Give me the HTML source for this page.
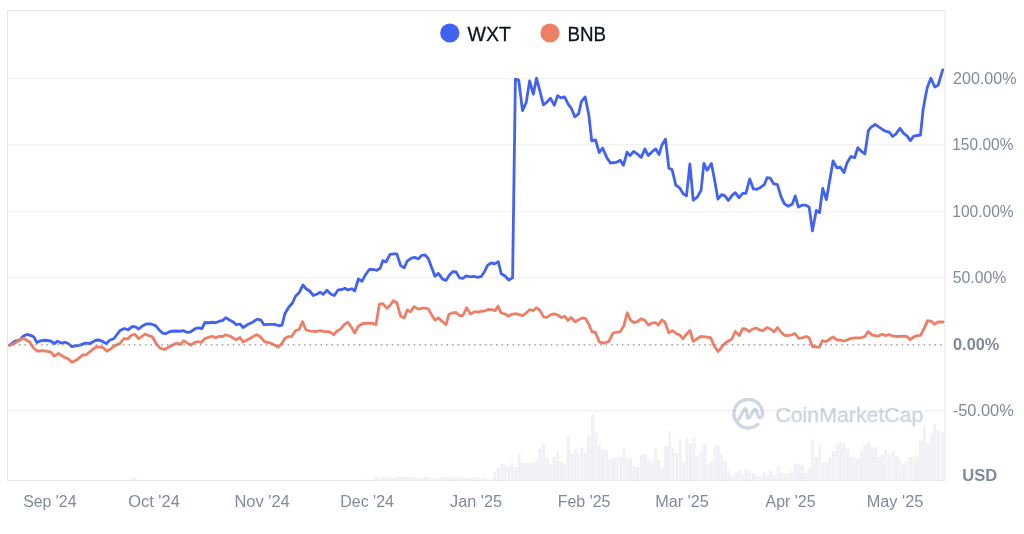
<!DOCTYPE html>
<html><head><meta charset="utf-8"><style>
html,body{margin:0;padding:0;background:#fff;}
body{width:1024px;height:534px;overflow:hidden;}
svg{display:block;font-family:"Liberation Sans",sans-serif;will-change:transform;}
</style></head><body>
<svg width="1024" height="534" viewBox="0 0 1024 534">
<rect width="1024" height="534" fill="#fff"/>
<g fill="#cfd5e2" stroke="#cfd5e2">
<path d="M762.50,413.70 A14.3,14.3 0 1 0 757.95,424.16" fill="none" stroke-width="3.3" stroke-linecap="round"/>
<path d="M737.3,421.9 L744.2,409.6 Q745.6,407.2 746.5,409.9 L747.2,416.6 Q747.9,420.2 749.6,417.2 L753.6,410.3 Q755.1,407.8 756.2,410.6 L758.2,416.2 Q759.4,419.2 761.3,417.2 Q762.5,415.6 762.5,413.7" fill="none" stroke-width="3.1" stroke-linejoin="round" stroke-linecap="round"/>
<text x="775.4" y="422.2" font-size="20.5" stroke-width="0.45" textLength="148" lengthAdjust="spacingAndGlyphs">CoinMarketCap</text>
</g>
<g fill="rgba(0,0,0,0.058)">
<rect x="8" y="78.1" width="937" height="1.2"/><rect x="8" y="144.1" width="937" height="1.2"/><rect x="8" y="211.1" width="937" height="1.2"/><rect x="8" y="277.1" width="937" height="1.2"/><rect x="8" y="410.1" width="937" height="1.2"/>
</g>
<rect x="7.5" y="10.5" width="937.5" height="470" fill="none" stroke="#e6e6e6" stroke-width="1"/>
<g fill="#eff1f5"><rect x="130.30" y="478.20" width="3.00" height="2.30"/><rect x="133.80" y="478.00" width="3.00" height="2.50"/><rect x="361.00" y="479.30" width="3.00" height="1.20"/><rect x="375.00" y="477.00" width="3.17" height="3.50"/><rect x="378.49" y="477.50" width="3.17" height="3.00"/><rect x="381.98" y="476.50" width="3.17" height="4.00"/><rect x="385.47" y="477.50" width="3.17" height="3.00"/><rect x="388.96" y="478.00" width="3.17" height="2.50"/><rect x="392.45" y="478.00" width="3.17" height="2.50"/><rect x="395.94" y="477.00" width="3.17" height="3.50"/><rect x="399.43" y="476.50" width="3.17" height="4.00"/><rect x="402.92" y="476.50" width="3.17" height="4.00"/><rect x="406.41" y="476.50" width="3.17" height="4.00"/><rect x="409.90" y="477.00" width="3.17" height="3.50"/><rect x="413.39" y="477.50" width="3.17" height="3.00"/><rect x="416.88" y="478.00" width="3.17" height="2.50"/><rect x="420.37" y="477.50" width="3.17" height="3.00"/><rect x="423.86" y="477.00" width="3.17" height="3.50"/><rect x="427.35" y="477.50" width="3.17" height="3.00"/><rect x="430.84" y="478.00" width="3.17" height="2.50"/><rect x="434.33" y="478.50" width="3.17" height="2.00"/><rect x="437.82" y="477.50" width="3.17" height="3.00"/><rect x="441.31" y="477.00" width="3.17" height="3.50"/><rect x="444.80" y="478.00" width="3.17" height="2.50"/><rect x="448.29" y="476.50" width="3.17" height="4.00"/><rect x="451.78" y="478.00" width="3.17" height="2.50"/><rect x="455.27" y="476.50" width="3.17" height="4.00"/><rect x="458.76" y="477.00" width="3.17" height="3.50"/><rect x="462.25" y="477.50" width="3.17" height="3.00"/><rect x="465.74" y="478.00" width="3.17" height="2.50"/><rect x="469.23" y="478.00" width="3.17" height="2.50"/><rect x="472.72" y="477.50" width="3.17" height="3.00"/><rect x="476.21" y="477.50" width="3.47" height="3.00"/><rect x="480.00" y="478.70" width="2.78" height="1.80"/><rect x="483.10" y="477.40" width="2.88" height="3.10"/><rect x="486.30" y="479.00" width="2.78" height="1.50"/><rect x="489.40" y="479.50" width="3.68" height="1.00"/><rect x="493.40" y="472.10" width="2.78" height="8.40"/><rect x="496.50" y="468.00" width="3.68" height="12.50"/><rect x="500.50" y="463.70" width="2.78" height="16.80"/><rect x="503.60" y="464.80" width="2.78" height="15.70"/><rect x="506.70" y="466.40" width="3.68" height="14.10"/><rect x="510.70" y="462.60" width="2.78" height="17.90"/><rect x="513.80" y="466.90" width="3.68" height="13.60"/><rect x="517.80" y="453.20" width="2.78" height="27.30"/><rect x="520.90" y="462.60" width="2.88" height="17.90"/><rect x="524.10" y="462.90" width="2.78" height="17.60"/><rect x="527.20" y="462.60" width="3.58" height="17.90"/><rect x="531.10" y="462.60" width="3.68" height="17.90"/><rect x="535.10" y="459.80" width="2.78" height="20.70"/><rect x="538.20" y="448.80" width="3.58" height="31.70"/><rect x="542.10" y="443.30" width="2.88" height="37.20"/><rect x="545.30" y="457.40" width="3.58" height="23.10"/><rect x="549.20" y="463.70" width="2.88" height="16.80"/><rect x="552.40" y="457.40" width="3.58" height="23.10"/><rect x="556.30" y="450.30" width="2.88" height="30.20"/><rect x="559.50" y="461.40" width="3.58" height="19.10"/><rect x="563.40" y="463.70" width="2.78" height="16.80"/><rect x="566.50" y="436.50" width="3.68" height="44.00"/><rect x="570.50" y="453.20" width="2.78" height="27.30"/><rect x="573.60" y="449.10" width="3.58" height="31.40"/><rect x="577.50" y="454.30" width="2.88" height="26.20"/><rect x="580.70" y="447.50" width="2.78" height="33.00"/><rect x="583.80" y="453.20" width="2.88" height="27.30"/><rect x="587.00" y="435.40" width="3.58" height="45.10"/><rect x="590.90" y="414.50" width="3.68" height="66.00"/><rect x="594.90" y="432.70" width="2.78" height="47.80"/><rect x="598.00" y="444.80" width="2.78" height="35.70"/><rect x="601.10" y="448.80" width="3.68" height="31.70"/><rect x="605.10" y="450.00" width="2.78" height="30.50"/><rect x="608.20" y="459.80" width="2.88" height="20.70"/><rect x="611.40" y="458.50" width="3.58" height="22.00"/><rect x="615.30" y="457.00" width="2.88" height="23.50"/><rect x="618.50" y="457.00" width="3.58" height="23.50"/><rect x="622.40" y="449.10" width="2.78" height="31.40"/><rect x="625.50" y="457.00" width="2.88" height="23.50"/><rect x="628.70" y="458.50" width="3.58" height="22.00"/><rect x="632.60" y="466.40" width="2.88" height="14.10"/><rect x="635.80" y="466.90" width="3.78" height="13.60"/><rect x="639.90" y="454.30" width="2.88" height="26.20"/><rect x="643.10" y="454.30" width="3.58" height="26.20"/><rect x="647.00" y="459.80" width="2.88" height="20.70"/><rect x="650.20" y="461.40" width="3.58" height="19.10"/><rect x="654.10" y="448.80" width="2.78" height="31.70"/><rect x="657.20" y="459.80" width="2.88" height="20.70"/><rect x="660.40" y="468.00" width="3.58" height="12.50"/><rect x="664.30" y="445.90" width="3.68" height="34.60"/><rect x="668.30" y="431.20" width="2.78" height="49.30"/><rect x="671.40" y="447.20" width="2.78" height="33.30"/><rect x="674.50" y="453.20" width="3.68" height="27.30"/><rect x="678.50" y="439.30" width="2.78" height="41.20"/><rect x="681.60" y="462.60" width="3.68" height="17.90"/><rect x="685.60" y="437.80" width="2.78" height="42.70"/><rect x="688.70" y="443.30" width="3.58" height="37.20"/><rect x="692.60" y="437.80" width="2.88" height="42.70"/><rect x="695.80" y="455.90" width="3.58" height="24.60"/><rect x="699.70" y="450.30" width="2.88" height="30.20"/><rect x="702.90" y="443.30" width="3.58" height="37.20"/><rect x="706.80" y="463.70" width="2.88" height="16.80"/><rect x="710.00" y="461.40" width="3.58" height="19.10"/><rect x="713.90" y="444.80" width="2.78" height="35.70"/><rect x="717.00" y="445.90" width="2.88" height="34.60"/><rect x="720.20" y="454.30" width="2.78" height="26.20"/><rect x="723.30" y="461.40" width="3.68" height="19.10"/><rect x="727.30" y="470.80" width="2.78" height="9.70"/><rect x="730.40" y="476.30" width="3.58" height="4.20"/><rect x="734.30" y="472.40" width="2.88" height="8.10"/><rect x="737.50" y="470.80" width="3.58" height="9.70"/><rect x="741.40" y="473.60" width="2.88" height="6.90"/><rect x="744.60" y="469.20" width="3.58" height="11.30"/><rect x="748.50" y="472.70" width="2.78" height="7.80"/><rect x="751.60" y="473.60" width="3.68" height="6.90"/><rect x="755.60" y="476.30" width="2.78" height="4.20"/><rect x="758.70" y="476.30" width="3.68" height="4.20"/><rect x="762.70" y="472.10" width="2.78" height="8.40"/><rect x="765.80" y="475.20" width="2.78" height="5.30"/><rect x="768.90" y="470.80" width="3.68" height="9.70"/><rect x="772.90" y="475.20" width="3.58" height="5.30"/><rect x="776.80" y="466.40" width="2.88" height="14.10"/><rect x="780.00" y="472.70" width="2.78" height="7.80"/><rect x="783.10" y="473.60" width="3.58" height="6.90"/><rect x="787.00" y="473.60" width="2.88" height="6.90"/><rect x="790.20" y="470.50" width="3.38" height="10.00"/><rect x="793.90" y="463.70" width="2.88" height="16.80"/><rect x="797.10" y="463.70" width="2.78" height="16.80"/><rect x="800.20" y="465.30" width="3.68" height="15.20"/><rect x="804.20" y="473.20" width="2.78" height="7.30"/><rect x="807.30" y="468.00" width="3.58" height="12.50"/><rect x="811.20" y="439.30" width="2.88" height="41.20"/><rect x="814.40" y="457.00" width="3.58" height="23.50"/><rect x="818.30" y="444.80" width="2.88" height="35.70"/><rect x="821.50" y="462.60" width="3.58" height="17.90"/><rect x="825.40" y="462.60" width="2.78" height="17.90"/><rect x="828.50" y="457.00" width="2.88" height="23.50"/><rect x="831.70" y="451.10" width="3.58" height="29.40"/><rect x="835.60" y="444.40" width="2.88" height="36.10"/><rect x="838.80" y="442.20" width="3.58" height="38.30"/><rect x="842.70" y="443.70" width="2.88" height="36.80"/><rect x="845.90" y="449.10" width="3.58" height="31.40"/><rect x="849.80" y="457.00" width="2.78" height="23.50"/><rect x="852.90" y="457.00" width="2.88" height="23.50"/><rect x="856.10" y="458.50" width="3.58" height="22.00"/><rect x="860.00" y="451.10" width="2.88" height="29.40"/><rect x="863.20" y="444.80" width="3.58" height="35.70"/><rect x="867.10" y="442.20" width="2.78" height="38.30"/><rect x="870.20" y="447.20" width="2.88" height="33.30"/><rect x="873.40" y="447.20" width="3.58" height="33.30"/><rect x="877.30" y="457.00" width="3.68" height="23.50"/><rect x="881.30" y="454.30" width="2.78" height="26.20"/><rect x="884.40" y="449.10" width="2.78" height="31.40"/><rect x="887.50" y="454.30" width="3.68" height="26.20"/><rect x="891.50" y="451.60" width="2.78" height="28.90"/><rect x="894.60" y="455.90" width="3.68" height="24.60"/><rect x="898.60" y="458.50" width="2.78" height="22.00"/><rect x="901.70" y="464.20" width="3.58" height="16.30"/><rect x="905.60" y="461.70" width="2.88" height="18.80"/><rect x="908.80" y="457.00" width="3.58" height="23.50"/><rect x="912.70" y="457.00" width="2.88" height="23.50"/><rect x="915.90" y="455.40" width="2.78" height="25.10"/><rect x="919.00" y="440.60" width="3.58" height="39.90"/><rect x="922.90" y="425.50" width="2.88" height="55.00"/><rect x="926.10" y="443.30" width="3.58" height="37.20"/><rect x="930.00" y="434.90" width="2.88" height="45.60"/><rect x="933.20" y="424.40" width="2.78" height="56.10"/><rect x="936.30" y="430.70" width="3.50" height="49.80"/><rect x="941.10" y="432.30" width="4.50" height="48.20"/></g>
<polyline points="9.60,345.20 15.00,341.00 20.00,340.00 23.10,336.25 26.90,334.40 31.25,335.60 33.75,336.90 36.90,342.50 40.00,341.00 45.00,340.25 50.60,341.00 54.40,343.50 57.50,341.25 61.25,343.10 65.00,342.25 68.10,343.50 71.90,346.60 76.25,345.60 79.40,345.40 85.00,343.10 90.00,343.50 96.25,340.00 100.00,340.25 106.25,343.50 110.00,340.00 113.75,338.75 120.00,330.60 124.40,328.50 128.10,329.75 132.50,326.50 135.60,326.90 138.75,329.00 141.90,326.25 146.25,324.00 151.25,324.00 155.60,325.60 158.75,329.40 162.50,333.10 165.60,333.75 170.00,331.50 175.00,331.00 179.40,331.25 183.10,330.60 187.50,332.50 190.60,331.90 195.00,328.75 198.10,327.90 201.90,328.50 205.00,322.50 208.75,322.75 212.50,322.25 215.60,322.75 220.00,321.00 222.50,320.60 225.60,317.75 230.00,320.25 233.10,321.90 236.25,324.75 240.00,324.00 243.10,327.50 248.20,324.30 252.70,322.20 257.20,319.20 261.00,320.20 264.00,324.70 269.20,324.30 274.50,324.30 279.00,325.75 282.00,325.20 285.00,313.50 288.70,307.20 292.50,303.00 295.50,296.20 299.20,292.50 303.00,285.00 306.00,288.70 309.70,291.00 313.40,295.50 317.20,294.00 320.20,292.20 323.20,294.30 327.00,290.20 330.70,294.00 334.40,295.50 338.20,289.80 341.90,289.50 344.90,288.30 347.90,290.00 351.70,288.70 354.70,291.00 358.40,279.00 362.00,281.30 365.10,275.40 369.30,269.50 373.50,269.50 376.90,270.40 380.20,268.30 382.80,260.60 386.10,261.90 390.00,254.30 393.70,253.80 396.80,253.80 400.50,265.30 404.20,267.80 407.20,261.10 411.40,258.20 414.80,257.40 418.20,258.90 421.60,255.50 424.90,254.80 428.30,258.50 431.70,267.80 435.00,276.30 438.40,273.40 442.60,279.10 446.00,280.50 449.40,275.10 452.70,271.70 456.10,272.00 459.50,277.90 462.90,278.40 466.20,275.90 470.50,276.80 473.80,276.30 478.00,277.40 481.40,276.30 484.80,271.20 487.30,265.70 491.20,262.80 494.60,263.90 498.20,261.70 501.30,273.80 505.30,276.30 508.70,280.00 512.60,277.80 515.40,79.10 518.70,80.00 522.50,110.60 526.20,102.50 529.60,81.00 533.30,94.10 536.50,78.20 540.20,92.20 543.40,104.90 547.20,101.90 550.50,98.20 554.30,105.30 557.70,95.60 560.80,97.80 564.60,96.90 568.30,104.40 571.50,108.70 574.90,116.90 578.60,113.70 581.40,101.60 585.20,96.90 588.90,115.60 591.70,140.90 595.50,139.90 599.20,152.50 602.60,148.00 606.70,157.40 610.40,163.00 616.10,162.40 620.20,160.20 623.40,165.30 627.10,152.20 630.00,155.60 633.70,151.40 637.40,154.10 641.20,157.40 644.90,149.00 648.30,155.60 652.40,151.40 655.80,149.00 659.00,154.60 661.80,145.30 665.50,139.10 668.90,168.30 672.10,169.60 675.80,185.10 679.60,187.80 683.30,193.90 686.50,195.80 689.90,164.00 693.20,200.10 697.30,197.10 701.10,190.20 703.90,163.40 707.10,170.20 711.40,163.40 714.60,179.90 717.90,199.00 721.60,194.60 725.00,195.90 728.30,200.50 732.10,195.30 735.30,192.70 739.00,197.70 742.80,193.40 745.90,193.40 749.70,179.00 753.40,188.90 756.80,189.30 760.50,187.40 764.30,184.60 767.10,177.70 770.30,178.10 773.60,183.70 777.40,184.60 781.10,196.80 784.50,203.90 788.20,206.20 792.40,203.90 795.20,195.90 798.40,207.10 802.10,205.20 805.80,205.20 809.20,207.10 812.40,230.90 816.30,210.30 819.50,212.70 822.70,188.40 826.40,199.60 833.10,160.80 836.80,167.80 840.20,167.00 844.00,172.60 847.10,162.70 850.90,156.50 854.60,157.70 857.80,147.70 862.10,152.00 864.90,153.90 868.30,130.90 870.50,127.70 875.20,124.30 879.90,127.70 884.60,130.90 889.30,132.20 892.60,136.50 895.80,134.10 899.90,128.30 903.60,133.40 907.00,135.90 910.40,140.60 913.70,136.20 920.50,135.00 923.00,110.60 924.70,100.50 927.20,87.80 930.90,78.20 934.80,87.00 938.20,85.00 942.70,69.80" fill="none" stroke="#4262f1" stroke-width="2.8" stroke-linejoin="round" stroke-linecap="round"/>
<polyline points="9.60,345.60 16.25,342.25 23.10,338.10 30.00,342.25 33.10,347.50 37.50,351.25 42.50,350.60 50.60,351.90 54.40,356.25 58.10,353.50 65.00,357.50 68.10,358.75 71.90,362.25 77.50,359.40 82.50,355.00 86.25,354.75 91.25,350.60 96.25,346.90 102.50,347.25 106.90,351.25 110.00,349.40 115.00,345.60 120.00,343.50 123.75,338.75 128.10,338.75 131.25,335.25 135.00,334.40 138.75,338.75 145.00,334.00 148.10,335.40 152.50,336.90 156.25,343.75 160.00,348.10 164.40,349.40 168.10,347.50 172.50,345.00 176.90,343.10 180.60,344.40 183.75,340.60 187.50,343.10 190.60,345.00 195.00,342.25 198.10,341.50 201.25,342.50 205.00,338.50 210.00,336.90 212.50,336.25 215.60,337.75 219.40,336.25 222.50,336.50 225.60,334.75 230.00,336.25 236.25,339.75 240.00,337.50 243.10,341.90 249.00,339.00 256.50,334.70 259.50,336.00 264.70,341.60 271.50,343.40 278.20,347.20 282.00,343.40 285.00,338.20 288.00,336.70 291.70,336.40 295.50,330.70 299.20,329.20 302.60,321.70 306.00,330.00 310.40,331.20 316.40,331.50 320.20,330.70 324.70,331.70 329.20,331.70 333.70,334.70 337.40,330.70 340.40,329.20 344.20,324.70 347.90,322.20 351.70,327.70 354.70,333.00 358.40,326.20 362.90,323.50 371.80,323.10 376.00,324.70 379.40,304.10 382.80,303.70 387.00,308.30 390.40,304.90 393.40,300.70 396.80,302.70 400.50,315.90 404.20,317.90 407.20,310.00 410.60,311.70 414.00,306.60 418.20,309.10 424.10,307.80 428.30,308.80 431.70,315.00 435.00,320.10 438.40,317.90 442.60,321.80 446.00,324.70 449.00,314.20 452.70,312.80 456.10,312.50 459.50,315.50 462.90,315.50 466.60,307.80 470.50,313.90 474.70,311.70 478.00,312.20 481.40,311.20 483.90,311.20 488.50,309.40 493.10,309.90 495.10,310.70 498.10,306.00 501.00,313.00 504.90,313.90 508.20,316.20 511.50,314.30 515.40,313.60 519.30,314.70 522.60,315.60 525.90,313.30 529.60,309.70 533.10,310.70 536.40,307.70 540.10,310.70 543.60,316.90 546.90,317.30 550.80,314.70 554.10,313.90 558.00,315.20 561.30,317.50 564.60,316.20 567.90,320.40 571.10,317.50 575.10,321.70 579.00,319.50 583.00,317.80 585.60,318.60 588.90,324.40 592.10,332.00 595.40,332.20 599.30,341.80 603.30,343.10 608.75,341.50 613.10,333.10 616.25,332.25 620.00,331.90 623.75,326.00 627.25,312.75 630.60,320.25 634.40,322.75 637.50,321.50 641.25,318.75 645.00,320.60 648.50,325.00 651.90,323.10 655.00,322.50 658.50,325.00 661.90,320.00 665.00,322.25 668.75,332.75 672.50,330.60 676.25,333.50 679.40,334.75 683.10,338.75 686.25,334.40 690.00,330.60 693.10,341.25 696.90,339.00 700.60,336.50 705.00,336.90 710.60,337.75 714.40,346.25 718.10,351.50 721.90,346.90 724.40,343.75 728.10,341.25 731.90,339.00 735.25,331.50 739.40,335.60 742.50,328.75 745.60,329.00 749.40,331.50 752.75,329.00 756.25,328.10 759.75,330.00 763.10,330.60 766.90,327.50 770.60,329.00 774.00,331.90 777.50,327.50 781.25,332.25 784.40,335.25 788.10,335.60 791.90,334.75 795.00,333.50 798.75,338.50 802.50,337.75 806.25,336.50 809.00,337.75 812.50,346.50 816.25,346.90 819.40,347.25 822.50,340.60 826.25,341.50 830.00,339.00 833.10,336.90 836.90,340.00 840.00,340.00 843.75,341.00 847.50,339.90 850.70,338.30 855.00,337.80 860.40,337.80 864.70,336.70 868.10,331.60 872.20,335.10 878.10,336.20 882.10,334.20 885.70,335.60 888.90,334.50 893.20,336.20 897.50,336.50 902.30,336.20 906.60,336.40 910.40,339.60 914.10,336.70 917.30,335.60 920.60,335.30 924.30,328.10 927.50,320.60 931.30,321.30 934.50,324.30 937.80,322.00 943.10,322.00" fill="none" stroke="#ec7f66" stroke-width="2.8" stroke-linejoin="round" stroke-linecap="round"/>
<line x1="8" y1="344.75" x2="945" y2="344.75" stroke="rgba(0,0,0,0.05)" stroke-width="1"/>
<line x1="8.02" y1="344.8" x2="945" y2="344.8" stroke="#8e8e8e" stroke-width="1.3" stroke-dasharray="1.4 4.083"/>
<text x="953.12" y="83.80" font-size="16.2" font-weight="normal" fill="#808a9d" textLength="63.36" lengthAdjust="spacingAndGlyphs">200.00%</text>
<text x="952.24" y="149.50" font-size="16.2" font-weight="normal" fill="#808a9d" textLength="61.28" lengthAdjust="spacingAndGlyphs">150.00%</text>
<text x="952.24" y="216.90" font-size="16.2" font-weight="normal" fill="#808a9d" textLength="61.44" lengthAdjust="spacingAndGlyphs">100.00%</text>
<text x="952.70" y="282.70" font-size="16.2" font-weight="normal" fill="#808a9d" textLength="53.72" lengthAdjust="spacingAndGlyphs">50.00%</text>
<text x="953.04" y="349.70" font-size="16.2" font-weight="bold" fill="#808a9d" textLength="46.32" lengthAdjust="spacingAndGlyphs">0.00%</text>
<text x="952.70" y="415.50" font-size="16.2" font-weight="normal" fill="#808a9d" textLength="61.12" lengthAdjust="spacingAndGlyphs">-50.00%</text>
<text x="962.28" y="481.10" font-size="16.5" font-weight="bold" fill="#808a9d" textLength="35.00" lengthAdjust="spacingAndGlyphs">USD</text>
<text x="23.16" y="507.00" font-size="16" font-weight="normal" fill="#808a9d" textLength="53.32" lengthAdjust="spacingAndGlyphs">Sep &#39;24</text>
<text x="128.20" y="507.00" font-size="16" font-weight="normal" fill="#808a9d" textLength="51.60" lengthAdjust="spacingAndGlyphs">Oct &#39;24</text>
<text x="234.40" y="507.00" font-size="16" font-weight="normal" fill="#808a9d" textLength="55.40" lengthAdjust="spacingAndGlyphs">Nov &#39;24</text>
<text x="340.20" y="507.00" font-size="16" font-weight="normal" fill="#808a9d" textLength="53.80" lengthAdjust="spacingAndGlyphs">Dec &#39;24</text>
<text x="450.00" y="507.00" font-size="16" font-weight="normal" fill="#808a9d" textLength="52.00" lengthAdjust="spacingAndGlyphs">Jan &#39;25</text>
<text x="557.70" y="507.00" font-size="16" font-weight="normal" fill="#808a9d" textLength="52.80" lengthAdjust="spacingAndGlyphs">Feb &#39;25</text>
<text x="655.20" y="507.00" font-size="16" font-weight="normal" fill="#808a9d" textLength="53.60" lengthAdjust="spacingAndGlyphs">Mar &#39;25</text>
<text x="765.50" y="507.00" font-size="16" font-weight="normal" fill="#808a9d" textLength="50.00" lengthAdjust="spacingAndGlyphs">Apr &#39;25</text>
<text x="866.70" y="507.00" font-size="16" font-weight="normal" fill="#808a9d" textLength="56.60" lengthAdjust="spacingAndGlyphs">May &#39;25</text>
<circle cx="449.8" cy="33" r="9.6" fill="#4262f1"/>
<circle cx="550" cy="33" r="9.6" fill="#ec7f66"/>
<g font-size="20" fill="#0d1421" stroke="#0d1421" stroke-width="0.3">
<text x="467.5" y="40.8" textLength="43.4" lengthAdjust="spacingAndGlyphs">WXT</text>
<text x="567.4" y="40.8" textLength="38.6" lengthAdjust="spacingAndGlyphs">BNB</text>
</g>
</svg>
</body></html>
